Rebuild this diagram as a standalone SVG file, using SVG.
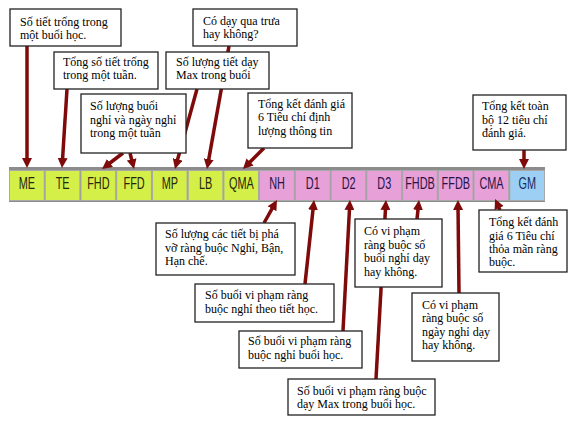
<svg xmlns="http://www.w3.org/2000/svg" width="576" height="424" viewBox="0 0 576 424">
<defs>
<marker id="ah" viewBox="0 0 10 10" refX="5" refY="5" markerWidth="10" markerHeight="10" markerUnits="userSpaceOnUse" orient="auto">
<path d="M0,0 L10,5 L0,10 z" fill="#7f0a0a"/>
</marker>
<style>
.box{fill:#ffffff;stroke:#222222;stroke-width:1.3}
.t{font-family:"Liberation Serif","Times New Roman",serif;font-size:12px;fill:#000000}
.c{font-family:"Liberation Sans",Arial,sans-serif;font-size:17px;text-anchor:middle}
.y{fill:#d4f048;stroke:#a8a8a8;stroke-width:1}
.p{fill:#e8a0d8;stroke:#a8a8a8;stroke-width:1}
.b{fill:#9ccff3;stroke:#a8a8a8;stroke-width:1}
.ty{fill:#26260f}
.tp{fill:#261447}
.tb{fill:#142d62}
.ln{stroke:#7f0a0a;stroke-width:3.5;fill:none;marker-end:url(#ah)}
</style>
</defs>
<rect width="576" height="424" fill="#ffffff"/>
<g id="bar">
<rect x="9" y="167" width="536" height="35" fill="#8c8c8c"/>
<rect class="y" x="9.5" y="170.5" width="34.7" height="30"/>
<rect class="y" x="45.2" y="170.5" width="34.7" height="30"/>
<rect class="y" x="81" y="170.5" width="34.7" height="30"/>
<rect class="y" x="116.7" y="170.5" width="34.7" height="30"/>
<rect class="y" x="152.4" y="170.5" width="34.7" height="30"/>
<rect class="y" x="188.2" y="170.5" width="34.7" height="30"/>
<rect class="y" x="223.9" y="170.5" width="34.7" height="30"/>
<rect class="p" x="259.6" y="170.5" width="34.7" height="30"/>
<rect class="p" x="295.4" y="170.5" width="34.7" height="30"/>
<rect class="p" x="331.1" y="170.5" width="34.7" height="30"/>
<rect class="p" x="366.8" y="170.5" width="34.7" height="30"/>
<rect class="p" x="402.6" y="170.5" width="34.7" height="30"/>
<rect class="p" x="438.3" y="170.5" width="34.7" height="30"/>
<rect class="p" x="474" y="170.5" width="34.7" height="30"/>
<rect class="b" x="509.8" y="170.5" width="34.7" height="30"/>
<text class="c ty" transform="translate(26.9,188.5) scale(0.64,1)">ME</text>
<text class="c ty" transform="translate(62.6,188.5) scale(0.64,1)">TE</text>
<text class="c ty" transform="translate(98.4,188.5) scale(0.64,1)">FHD</text>
<text class="c ty" transform="translate(134.1,188.5) scale(0.64,1)">FFD</text>
<text class="c ty" transform="translate(169.8,188.5) scale(0.64,1)">MP</text>
<text class="c ty" transform="translate(205.6,188.5) scale(0.64,1)">LB</text>
<text class="c ty" transform="translate(241.4,188.5) scale(0.64,1)">QMA</text>
<text class="c tp" transform="translate(277.1,188.5) scale(0.64,1)">NH</text>
<text class="c tp" transform="translate(312.8,188.5) scale(0.64,1)">D1</text>
<text class="c tp" transform="translate(348.6,188.5) scale(0.64,1)">D2</text>
<text class="c tp" transform="translate(384.3,188.5) scale(0.64,1)">D3</text>
<text class="c tp" transform="translate(420,188.5) scale(0.64,1)">FHDB</text>
<text class="c tp" transform="translate(455.8,188.5) scale(0.64,1)">FFDB</text>
<text class="c tp" transform="translate(491.5,188.5) scale(0.64,1)">CMA</text>
<text class="c tb" transform="translate(527.2,188.5) scale(0.64,1)">GM</text>
</g>
<g id="connectors">
<line class="ln" x1="27" y1="46" x2="27" y2="163"/>
<line class="ln" x1="67" y1="89" x2="62.3" y2="163"/>
<line class="ln" x1="123" y1="153" x2="106" y2="166"/>
<line class="ln" x1="130" y1="153" x2="132.8" y2="164.2"/>
<line class="ln" x1="197" y1="89" x2="176.3" y2="164.2"/>
<line class="ln" x1="229" y1="46" x2="207.9" y2="164.1"/>
<line class="ln" x1="264" y1="148" x2="246.5" y2="165.5"/>
<line class="ln" x1="524" y1="150" x2="524" y2="164"/>
<line class="ln" x1="264" y1="223" x2="274.5" y2="204.4"/>
<line class="ln" x1="305" y1="284" x2="313.5" y2="205"/>
<line class="ln" x1="343" y1="331" x2="349.7" y2="205"/>
<line class="ln" x1="376" y1="379" x2="385.7" y2="205"/>
<line class="ln" x1="417" y1="219" x2="418.5" y2="205"/>
<line class="ln" x1="459" y1="293" x2="458" y2="205"/>
<line class="ln" x1="500" y1="210" x2="497.1" y2="203.5"/>
</g>
<g id="boxA"><rect class="box" x="10" y="9" width="111" height="37"/>
<text class="t"><tspan x="20" y="26">Số tiết trống trong</tspan><tspan x="20" y="39">một buổi học.</tspan></text></g>
<g id="boxB"><rect class="box" x="54" y="52" width="104" height="37"/>
<text class="t"><tspan x="63" y="66">Tổng số tiết trống</tspan><tspan x="63" y="79">trong một tuần.</tspan></text></g>
<g id="boxC"><rect class="box" x="81" y="94" width="105" height="59"/>
<text class="t"><tspan x="90" y="110">Số lượng buổi</tspan><tspan x="90" y="124">nghỉ và ngày nghỉ</tspan><tspan x="90" y="137">trong một tuần</tspan></text></g>
<g id="boxD"><rect class="box" x="193" y="9" width="104" height="37"/>
<text class="t"><tspan x="203" y="25">Có dạy qua trưa</tspan><tspan x="203" y="38">hay không?</tspan></text></g>
<g id="boxE"><rect class="box" x="166" y="52" width="103" height="37"/>
<text class="t"><tspan x="176" y="66">Số lượng tiết dạy</tspan><tspan x="176" y="79">Max trong buổi</tspan></text></g>
<g id="boxF"><rect class="box" x="248" y="93" width="104" height="55"/>
<text class="t"><tspan x="258" y="108">Tổng kết đánh giá</tspan><tspan x="258" y="121">6 Tiêu chí định</tspan><tspan x="258" y="135">lượng thông tin</tspan></text></g>
<g id="boxG"><rect class="box" x="473" y="95" width="93" height="55"/>
<text class="t"><tspan x="482" y="110">Tổng kết toàn</tspan><tspan x="482" y="124">bộ 12 tiêu chí</tspan><tspan x="482" y="137">đánh giá.</tspan></text></g>
<g id="boxH"><rect class="box" x="156" y="223" width="139" height="52"/>
<text class="t"><tspan x="165" y="238">Số lượng các tiết bị phá</tspan><tspan x="165" y="252">vỡ ràng buộc Nghỉ, Bận,</tspan><tspan x="165" y="265">Hạn chế.</tspan></text></g>
<g id="boxI"><rect class="box" x="195" y="284" width="139" height="38"/>
<text class="t"><tspan x="205" y="299">Số buổi vi phạm ràng</tspan><tspan x="205" y="313">buộc nghỉ theo tiết học.</tspan></text></g>
<g id="boxJ"><rect class="box" x="239" y="331" width="123" height="37"/>
<text class="t"><tspan x="248" y="345">Số buổi vi phạm ràng</tspan><tspan x="248" y="359">buộc nghỉ buổi học.</tspan></text></g>
<g id="boxK"><rect class="box" x="288" y="379" width="147" height="36"/>
<text class="t"><tspan x="297" y="395">Số buổi vi phạm ràng buộc</tspan><tspan x="297" y="408">dạy Max trong buổi học.</tspan></text></g>
<g id="boxL"><rect class="box" x="355" y="219" width="87" height="68"/>
<text class="t"><tspan x="364" y="235">Có vi phạm</tspan><tspan x="364" y="249">ràng buộc số</tspan><tspan x="364" y="262">buổi nghỉ dạy</tspan><tspan x="364" y="276">hay không.</tspan></text></g>
<g id="boxM"><rect class="box" x="412" y="293" width="87" height="68"/>
<text class="t"><tspan x="422" y="309">Có vi phạm</tspan><tspan x="422" y="322">ràng buộc số</tspan><tspan x="422" y="336">ngày nghỉ dạy</tspan><tspan x="422" y="349">hay không.</tspan></text></g>
<g id="boxN"><rect class="box" x="479" y="210" width="88" height="62"/>
<text class="t"><tspan x="489" y="226">Tổng kết đánh</tspan><tspan x="489" y="240">giá 6 Tiêu chí</tspan><tspan x="489" y="253">thỏa mãn ràng</tspan><tspan x="489" y="266">buộc.</tspan></text></g>
</svg>
